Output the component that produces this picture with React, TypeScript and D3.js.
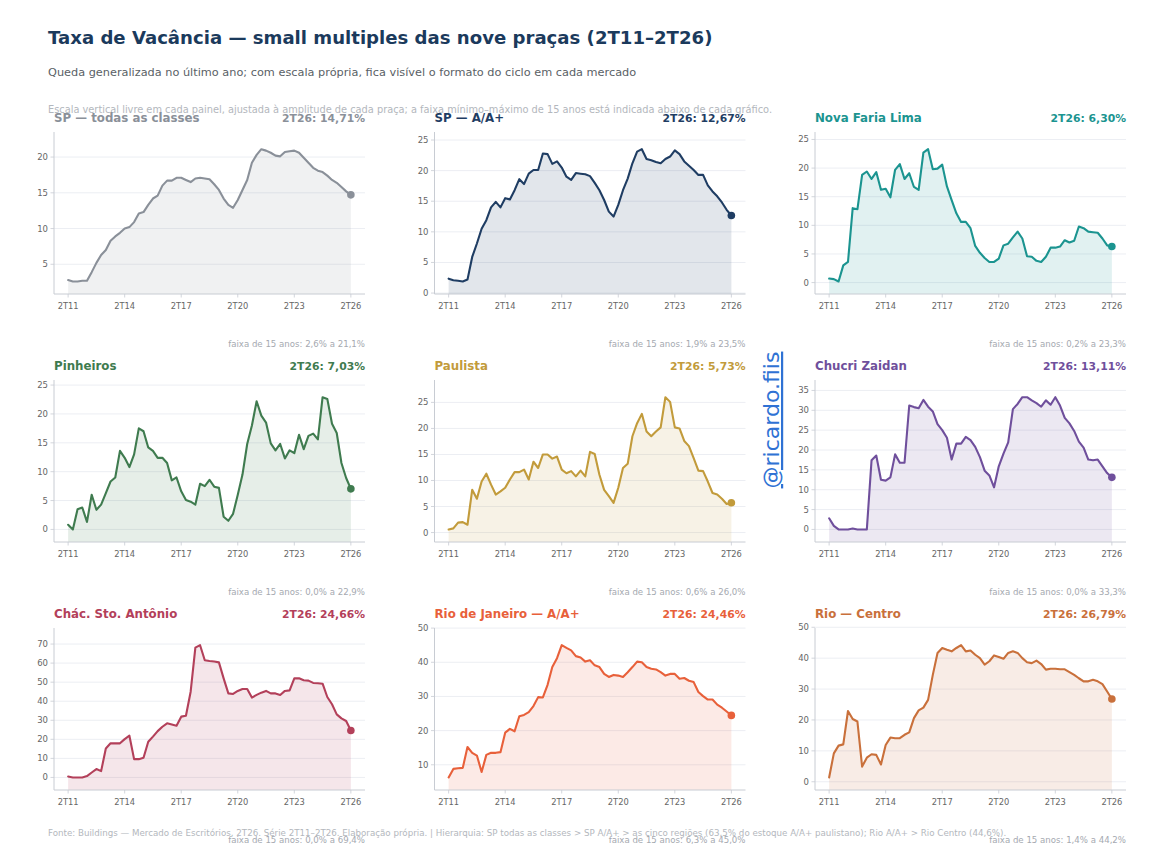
import React, { useEffect } from 'react';
import * as d3 from 'd3';

// quarterly series 2T11..2T26 (61 points each), vacancy %
const spTodas = [2.8, 2.6, 2.6, 2.7, 2.7, 3.9, 5.2, 6.3, 7.0, 8.3, 8.9, 9.4, 10.0, 10.2, 10.9, 12.1, 12.3, 13.3, 14.2, 14.6, 16.0, 16.7, 16.7, 17.1, 17.1, 16.8, 16.5, 17.0, 17.1, 17.0, 16.9, 16.2, 15.4, 14.2, 13.3, 12.9, 14.0, 15.4, 16.8, 19.2, 20.3, 21.1, 20.9, 20.6, 20.2, 20.1, 20.7, 20.8, 20.9, 20.6, 19.9, 19.2, 18.5, 18.1, 17.9, 17.4, 16.8, 16.4, 15.8, 15.2, 14.71];
const spAA = [2.35, 2.1, 2.0, 1.9, 2.2, 5.9, 8.1, 10.5, 11.9, 14.0, 14.9, 14.0, 15.5, 15.3, 16.8, 18.6, 17.8, 19.5, 20.1, 20.1, 22.8, 22.7, 21.1, 21.5, 20.5, 19.0, 18.5, 19.6, 19.5, 19.4, 19.1, 18.0, 16.8, 15.2, 13.3, 12.5, 14.4, 16.8, 18.7, 21.2, 23.1, 23.5, 21.9, 21.7, 21.4, 21.2, 21.9, 22.3, 23.3, 22.7, 21.5, 20.8, 20.1, 19.3, 19.3, 17.6, 16.6, 15.8, 14.8, 13.6, 12.67];
const novaFariaLima = [0.7, 0.6, 0.2, 3.0, 3.6, 13.0, 12.8, 18.8, 19.4, 18.1, 19.3, 16.2, 16.4, 14.9, 19.7, 20.7, 18.1, 19.1, 16.7, 16.2, 22.7, 23.3, 19.8, 19.9, 20.6, 16.8, 14.4, 12.1, 10.6, 10.6, 9.5, 6.4, 5.2, 4.3, 3.6, 3.6, 4.2, 6.5, 6.8, 7.9, 8.9, 7.7, 4.6, 4.5, 3.8, 3.6, 4.5, 6.1, 6.1, 6.3, 7.4, 7.0, 7.3, 9.8, 9.5, 8.9, 8.8, 8.7, 7.7, 6.5, 6.30];
const pinheiros = [0.8, 0.0, 3.5, 3.8, 1.3, 6.0, 3.4, 4.3, 6.3, 8.3, 9.0, 13.6, 12.4, 10.8, 13.0, 17.5, 17.0, 14.2, 13.6, 12.4, 12.4, 11.5, 8.5, 9.0, 6.6, 5.1, 4.8, 4.3, 7.9, 7.5, 8.6, 7.4, 7.2, 2.2, 1.5, 2.7, 6.0, 9.5, 14.8, 18.0, 22.2, 19.7, 18.5, 14.9, 13.7, 14.8, 12.3, 13.7, 13.2, 16.4, 13.9, 16.2, 16.6, 15.6, 22.9, 22.6, 18.3, 16.7, 11.5, 8.9, 7.03];
const paulista = [0.6, 0.8, 1.9, 2.0, 1.5, 8.2, 6.5, 9.8, 11.3, 9.2, 7.3, 7.9, 8.6, 10.2, 11.6, 11.6, 12.1, 10.2, 13.6, 12.4, 15.0, 15.0, 14.2, 14.6, 12.1, 11.4, 11.8, 10.8, 11.9, 10.8, 15.5, 15.1, 11.1, 8.2, 7.0, 5.7, 8.6, 12.4, 13.2, 18.5, 21.0, 22.8, 19.4, 18.5, 19.4, 20.2, 26.0, 25.1, 20.2, 20.0, 17.6, 16.6, 14.3, 11.9, 11.8, 9.8, 7.6, 7.3, 6.5, 5.5, 5.73];
const chucriZaidan = [2.8, 0.9, 0.0, 0.0, 0.0, 0.25, 0.0, 0.0, 0.0, 17.4, 18.6, 12.5, 12.3, 13.1, 18.9, 16.8, 16.8, 31.2, 30.8, 30.5, 32.6, 30.9, 29.7, 26.5, 25.0, 23.1, 17.6, 21.6, 21.6, 23.3, 22.5, 20.8, 18.2, 14.8, 13.6, 10.6, 15.9, 19.1, 21.9, 30.3, 31.6, 33.3, 33.3, 32.5, 31.8, 30.9, 32.5, 31.4, 33.3, 31.2, 28.1, 26.7, 24.8, 22.1, 20.6, 17.6, 17.4, 17.6, 15.9, 14.2, 13.11];
const chacStoAntonio = [0.5, 0.0, 0.0, 0.0, 0.7, 2.6, 4.4, 3.3, 15.2, 17.9, 17.9, 17.9, 20.1, 21.9, 9.6, 9.6, 10.3, 18.7, 21.4, 24.3, 26.6, 28.4, 27.8, 27.1, 31.9, 32.4, 45.0, 68.1, 69.4, 61.5, 61.1, 60.8, 60.4, 52.0, 44.1, 43.8, 45.4, 46.4, 46.4, 41.9, 43.3, 44.5, 45.4, 44.1, 44.1, 43.3, 45.4, 45.7, 52.0, 52.0, 51.0, 50.8, 49.6, 49.4, 49.2, 42.2, 38.4, 33.1, 31.0, 29.6, 24.66];
const rioAA = [6.3, 8.8, 9.0, 9.1, 15.2, 13.5, 12.7, 7.9, 12.9, 13.5, 13.5, 13.7, 19.4, 20.5, 19.8, 24.2, 24.6, 25.4, 27.2, 29.8, 29.7, 33.4, 38.6, 41.2, 45.0, 44.2, 43.5, 41.8, 41.4, 40.2, 40.6, 39.1, 38.6, 36.6, 35.7, 36.3, 36.1, 35.7, 37.1, 38.6, 40.2, 40.0, 38.6, 38.1, 37.9, 37.1, 36.1, 36.6, 36.6, 35.2, 35.4, 34.6, 34.2, 31.3, 30.1, 29.1, 29.1, 27.6, 26.7, 25.6, 24.46];
const rioCentro = [1.4, 9.2, 11.7, 12.1, 22.9, 20.3, 19.5, 4.9, 7.8, 8.9, 8.7, 5.6, 11.9, 14.3, 14.1, 14.1, 15.2, 16.0, 20.6, 23.1, 24.0, 26.5, 34.6, 41.7, 43.3, 42.7, 42.2, 43.3, 44.2, 42.2, 42.5, 41.1, 40.0, 37.9, 39.0, 40.9, 40.4, 39.8, 41.7, 42.2, 41.7, 40.0, 38.7, 38.4, 39.2, 38.1, 36.3, 36.6, 36.6, 36.4, 36.4, 35.5, 34.6, 33.5, 32.5, 32.5, 33.0, 32.5, 31.6, 29.2, 26.79];

const panelNames = ['SP — todas as classes', 'SP — A/A+', 'Nova Faria Lima', 'Pinheiros', 'Paulista', 'Chucri Zaidan', 'Chác. Sto. Antônio', 'Rio de Janeiro — A/A+', 'Rio — Centro'];
const panelColors = ['#8a9099', '#1f3d63', '#1b9490', '#3f7b4f', '#c29b3b', '#6f4f9c', '#b3405a', '#e8603a', '#c9703b'];
const panelSeries = [spTodas, spAA, novaFariaLima, pinheiros, paulista, chucriZaidan, chacStoAntonio, rioAA, rioCentro];
const panelYTicks = [
  [5, 10, 15, 20],
  [0, 5, 10, 15, 20, 25],
  [0, 5, 10, 15, 20, 25],
  [0, 5, 10, 15, 20, 25],
  [0, 5, 10, 15, 20, 25],
  [0, 5, 10, 15, 20, 25, 30, 35],
  [0, 10, 20, 30, 40, 50, 60, 70],
  [10, 20, 30, 40, 50],
  [0, 10, 20, 30, 40, 50],
];
const xTickIndex = [0, 12, 24, 36, 48, 60];
const xTickLabels = ['2T11', '2T14', '2T17', '2T20', '2T23', '2T26'];

const FONT = '"DejaVu Sans", Verdana, sans-serif';
const W = 1160;
const H = 863;

const fmt1 = (v: number) => v.toFixed(1).replace('.', ',');
const fmt2 = (v: number) => v.toFixed(2).replace('.', ',');

const Panel = ({ name, color, values, yTicks, left, top }: any) => {
  const pw = 311;
  const ph = 162;
  const lo = d3.min(values) as number;
  const hi = d3.max(values) as number;
  const r = hi - lo;

  const x = d3.scaleLinear().domain([-3, 63]).range([left, left + pw]);
  const y = d3.scaleLinear().domain([lo - 0.095 * r, hi + 0.13 * r]).range([top + ph, top]);

  const line = d3.line<number>().x((_, i) => x(i)).y(d => y(d));
  const area = d3.area<number>().x((_, i) => x(i)).y0(top + ph).y1(d => y(d));
  const last = values[values.length - 1];

  return (
    <g>
      {yTicks.map((t: number) => (
        <g key={t}>
          <line x1={left} x2={left + pw} y1={y(t)} y2={y(t)} stroke="#eceef3" strokeWidth={1} />
          <line x1={left - 3.5} x2={left} y1={y(t)} y2={y(t)} stroke="#c8ccd3" strokeWidth={0.8} />
          <text x={left - 6} y={y(t)} dy="0.35em" textAnchor="end" fontSize={8.5} fill="#666">{t}</text>
        </g>
      ))}
      <path d={area(values) || ''} fill={color} fillOpacity={0.13} />
      <path d={line(values) || ''} fill="none" stroke={color} strokeWidth={2.1} strokeLinejoin="round" strokeLinecap="round" />
      <circle cx={x(values.length - 1)} cy={y(last)} r={3.8} fill={color} />
      <line x1={left} x2={left} y1={top} y2={top + ph} stroke="#c8ccd3" strokeWidth={1} />
      <line x1={left} x2={left + pw} y1={top + ph} y2={top + ph} stroke="#c8ccd3" strokeWidth={1} />
      {xTickIndex.map((qi, k) => (
        <g key={qi}>
          <line x1={x(qi)} x2={x(qi)} y1={top + ph} y2={top + ph + 3.5} stroke="#c8ccd3" strokeWidth={0.8} />
          <text x={x(qi)} y={top + ph + 15} textAnchor="middle" fontSize={8.3} fill="#666">{xTickLabels[k]}</text>
        </g>
      ))}
      <text x={left} y={top - 10} fontSize={11.8} fontWeight="bold" fill={color}>{name}</text>
      <text x={left + pw} y={top - 10} textAnchor="end" fontSize={10.8} fontWeight="bold" fill={color}>{`2T26: ${fmt2(last)}%`}</text>
      <text x={left + pw} y={top + ph + 53} textAnchor="end" fontSize={8.6} fill="#a5a9b0">{`faixa de 15 anos: ${fmt1(lo)}% a ${fmt1(hi)}%`}</text>
    </g>
  );
};

export default function App() {
  useEffect(() => {
    document.body.style.margin = '0';
  }, []);

  return (
    <svg width={W} height={H} style={{ display: 'block', background: '#fff' }} fontFamily={FONT}>
      <text x={48} y={44} fontSize={18.1} fontWeight="bold" fill="#1b3a5c">Taxa de Vacância — small multiples das nove praças (2T11–2T26)</text>
      <text x={48} y={76} fontSize={11.3} fill="#5a5f66">Queda generalizada no último ano; com escala própria, fica visível o formato do ciclo em cada mercado</text>
      <text x={48} y={113} fontSize={9.8} fill="#b3b7bd">Escala vertical livre em cada painel, ajustada à amplitude de cada praça; a faixa mínimo–máximo de 15 anos está indicada abaixo de cada gráfico.</text>

      {panelSeries.map((values, i) => (
        <Panel
          key={i}
          name={panelNames[i]}
          color={panelColors[i]}
          values={values}
          yTicks={panelYTicks[i]}
          left={54 + 380.5 * (i % 3)}
          top={132 + 248 * Math.floor(i / 3)}
        />
      ))}

      <text x={48} y={836} fontSize={8.7} fill="#b3b7bd">Fonte: Buildings — Mercado de Escritórios, 2T26. Série 2T11–2T26. Elaboração própria.  |  Hierarquia: SP todas as classes &gt; SP A/A+ &gt; as cinco regiões (63,5% do estoque A/A+ paulistano); Rio A/A+ &gt; Rio Centro (44,6%).</text>

      <text
        transform="translate(779,420) rotate(-90)"
        textAnchor="middle"
        fontSize={22}
        fill="#2f72d4"
        textDecoration="underline"
      >@ricardo.fiis</text>
    </svg>
  );
}
